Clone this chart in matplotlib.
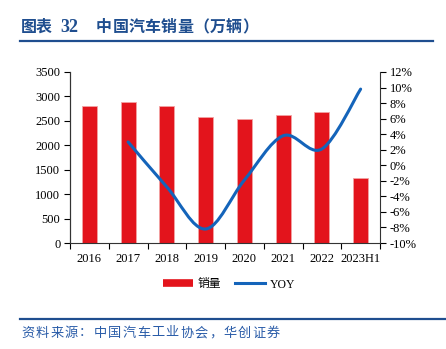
import matplotlib
matplotlib.use("Agg")
import matplotlib.pyplot as plt
from matplotlib.path import Path
from matplotlib.patches import PathPatch
from matplotlib.lines import Line2D
import numpy as np

years = ["2016", "2017", "2018", "2019", "2020", "2021", "2022", "2023H1"]
sales = [2802.8, 2887.9, 2808.1, 2576.9, 2531.1, 2627.5, 2686.4, 1323.9]
yoy_years = ["2017", "2018", "2019", "2020", "2021", "2022", "2023H1"]
yoy = [3.0, -2.8, -8.2, -1.9, 3.8, 2.1, 9.8]

CJK = ["Noto Sans CJK SC", "DejaVu Sans"]
SERIF = ["Liberation Serif", "DejaVu Serif"]
BLUE_T = "#1F4E8F"
RED = "#E3141C"
LINE = "#1464BA"

W, H = 446, 349
fig = plt.figure(figsize=(W / 100, H / 100), dpi=100)


def fx(px):
    return px / W


def fy(py):
    return 1 - py / H


def spaced_text(x0, y, s, pitch, **kw):
    # CJK text with a fixed character pitch, as in the report
    for i, ch in enumerate(s):
        fig.text(fx(x0 + i * pitch + pitch / 2), fy(y), ch, ha="center",
                 va="center", **kw)


# header
fig.text(fx(21), fy(27), "图表", family=CJK, fontsize=11.5, weight="bold",
         color=BLUE_T, va="center", ha="left")
fig.text(fx(60), fy(27.5), "32", family=SERIF, fontsize=13, weight="bold",
         color=BLUE_T, va="center", ha="left")
spaced_text(96, 27, "中国汽车销量（万辆）", 16.2, family=CJK, fontsize=11.5,
            weight="bold", color=BLUE_T)
fig.add_artist(Line2D([fx(20), fx(433)], [fy(40.5), fy(40.5)], color=BLUE_T, lw=1.6))

# footer
fig.add_artist(Line2D([fx(20), fx(446)], [fy(319), fy(319)], color=BLUE_T, lw=1.6))
spaced_text(21, 333, "资料来源：中国汽车工业协会，华创证券", 14.4, family=CJK,
            fontsize=9.5, color="#2A5CA8")

ax = fig.add_axes([fx(70), fy(243), fx(380) - fx(70), fy(72) - fy(243)])
ax2 = ax.twinx()

x = np.arange(len(years))
ax.bar(x, sales, width=0.39, color=RED, edgecolor="#F3A3A3", linewidth=0.6, zorder=2)
ax.set_xlim(-0.5, len(years) - 0.5)
ax.set_ylim(0, 3500)
ax.set_yticks(range(0, 3501, 500))
ax.set_xticks(x)
ax.set_xticklabels(years)
ax.set_xticks(np.arange(-0.5, len(years), 1), minor=True)
ax.tick_params(axis="x", which="major", length=0, pad=7)
ax.tick_params(axis="x", which="minor", length=4, direction="out", width=0.8)
ax.tick_params(axis="y", length=4, direction="out", width=0.8, pad=3)

# smoothed YOY line (Catmull-Rom style bezier, drawn from the data points)
xi = np.array([years.index(y) for y in yoy_years], dtype=float)
yi = np.array(yoy)
pts = np.column_stack([xi, yi])
ext = np.vstack([pts[0], pts, pts[-1]])
verts = [tuple(pts[0])]
codes = [Path.MOVETO]
for i in range(len(pts) - 1):
    p0, p1, p2, p3 = ext[i], ext[i + 1], ext[i + 2], ext[i + 3]
    c1 = p1 + (p2 - p0) / 6
    c2 = p2 - (p3 - p1) / 6
    verts += [tuple(c1), tuple(c2), tuple(p2)]
    codes += [Path.CURVE4] * 3
ax2.add_patch(PathPatch(Path(verts, codes), fill=False, edgecolor=LINE, lw=2.2,
                        capstyle="round", zorder=3))
ax2.set_ylim(-10, 12)
ax2.set_yticks(range(-10, 13, 2))
ax2.set_yticklabels([f"{v}%" for v in range(-10, 13, 2)])
ax2.tick_params(axis="y", length=4, direction="out", width=0.8, pad=3)

for a in (ax, ax2):
    a.spines["top"].set_visible(False)
    for s in ("left", "right", "bottom"):
        a.spines[s].set_linewidth(0.8)
        a.spines[s].set_color("#333333")
    for lab in a.get_xticklabels() + a.get_yticklabels():
        lab.set_fontfamily(SERIF)
        lab.set_fontsize(9)
ax2.spines["bottom"].set_visible(False)
ax.spines["right"].set_visible(False)

handles = [Line2D([], [], color=RED, lw=5.5, solid_capstyle="butt"),
           Line2D([], [], color=LINE, lw=2.2)]
leg = fig.legend(handles, ["销量", "YOY"], loc="center",
                 bbox_to_anchor=(fx(229), fy(284)), ncol=2, frameon=False,
                 handlelength=2.5, columnspacing=1.2, handletextpad=0.4,
                 prop={"family": CJK + SERIF, "size": 8.5})
leg.get_texts()[1].set_fontfamily(SERIF)

fig.savefig("out.png", dpi=100)
